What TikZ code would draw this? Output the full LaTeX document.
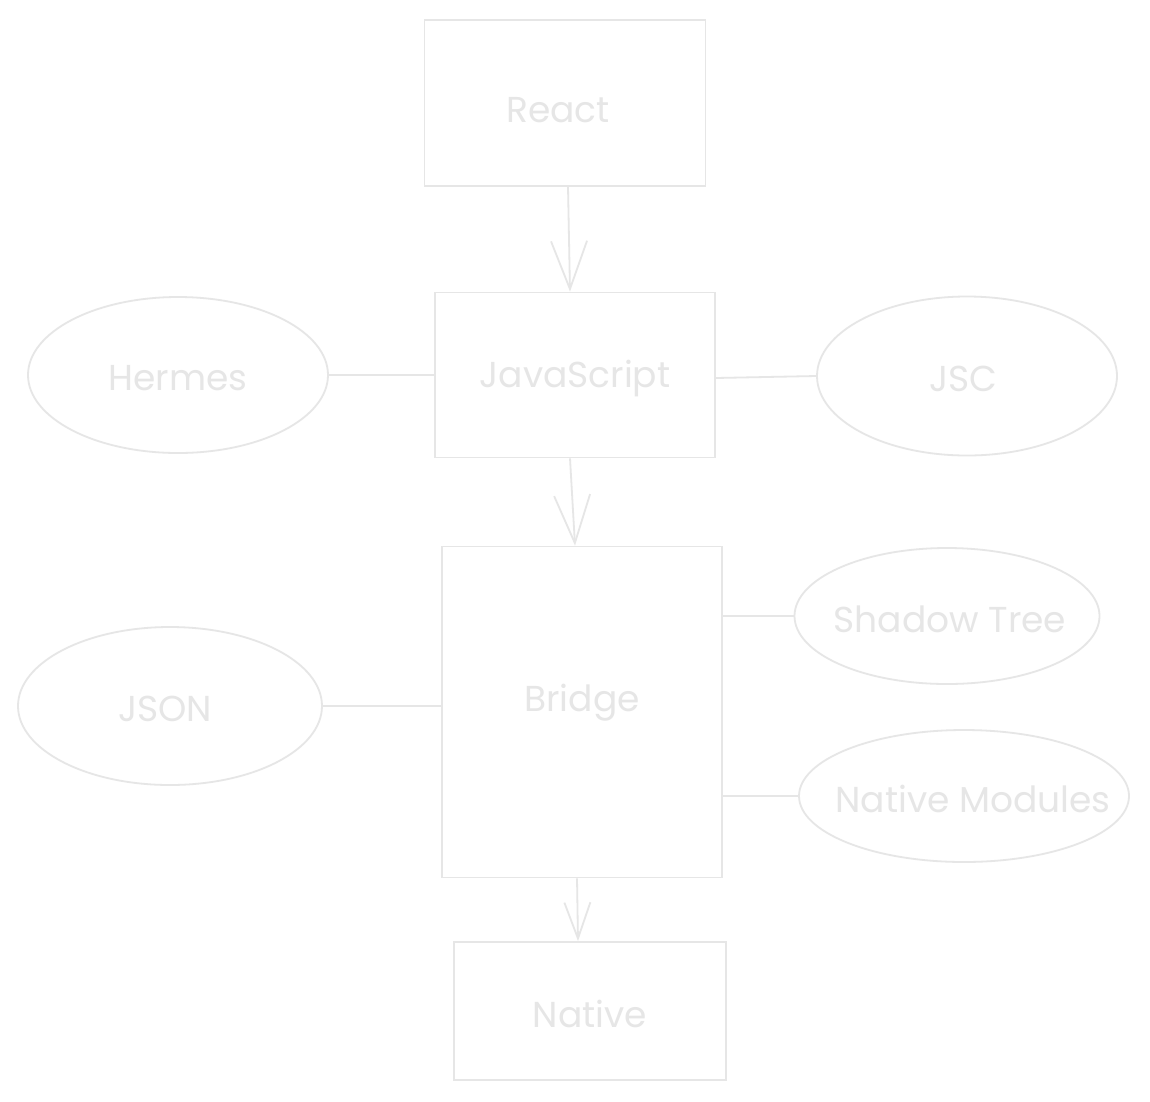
\documentclass[tikz,border=0pt]{standalone}
\usepackage{fontspec}
\setmainfont{Poppins}
\usetikzlibrary{arrows.meta,shapes.geometric}
\definecolor{sk}{HTML}{E6E6E6}
\begin{document}
\begin{tikzpicture}[x=1pt,y=-1pt,
  txt/.style={text=sk,font=\fontsize{36}{40}\selectfont,inner sep=0pt,yshift=-3pt},
  box/.style={draw=sk,line width=1.8pt,rectangle,inner sep=0pt},
  oval/.style={draw=sk,line width=1.8pt,ellipse,inner sep=0pt},
  link/.style={draw=sk,line width=1.8pt},
  arr/.style={draw=sk,line width=1.8pt,-{Straight Barb[length=48pt,width=36pt,line width=1.8pt]}},
  arrs/.style={draw=sk,line width=1.8pt,-{Straight Barb[length=36pt,width=26pt,line width=1.8pt]}}]
\useasboundingbox (0,0) rectangle (1150,1101);
\fill[white] (0,0) rectangle (1150,1101);
\node[box,minimum width=281pt,minimum height=166pt,label={[txt,xshift=-7pt,yshift=-4pt]center:React}] (react) at (565,103) {};
\node[box,minimum width=280pt,minimum height=165pt,label={[txt]center:JavaScript}] (js) at (575,375) {};
\node[box,minimum width=280pt,minimum height=331pt] (bridge) at (582,712) {};
\node[txt] (bridgelbl) at (582,700) {Bridge};
\node[box,minimum width=272pt,minimum height=138pt,label={[txt]center:Native}] (native) at (590,1011) {};
\node[oval,minimum width=300pt,minimum height=156pt,label={[txt]center:Hermes}] (hermes) at (178,375) {};
\node[oval,minimum width=300pt,minimum height=159pt,label={[txt,xshift=-4pt]center:JSC}] (jsc) at (967,376) {};
\node[oval,minimum width=304pt,minimum height=158pt,label={[txt,xshift=-5pt]center:JSON}] (json) at (170,706) {};
\node[oval,minimum width=305pt,minimum height=136pt,label={[txt,xshift=3pt]center:Shadow Tree}] (shadow) at (947,616) {};
\node[oval,minimum width=330pt,minimum height=132pt,label={[txt,xshift=9pt]center:Native Modules}] (nmod) at (964,796) {};
\draw[arr] ([xshift=3pt]react.south) -- ([xshift=-5pt]js.north);
\draw[arr] ([xshift=-5pt]js.south) -- ([xshift=-7pt]bridge.north);
\draw[arrs] ([xshift=-5pt]bridge.south) -- ([xshift=-12pt]native.north);
\draw[link] (hermes.east) -- (js.west);
\draw[link] ([yshift=-3pt]js.east) -- (jsc.west);
\draw[link] (json.east) -- (bridge.west |- json.east);
\draw[link] (bridge.east |- shadow.west) -- (shadow.west);
\draw[link] (bridge.east |- nmod.west) -- (nmod.west);
\end{tikzpicture}
\end{document}
